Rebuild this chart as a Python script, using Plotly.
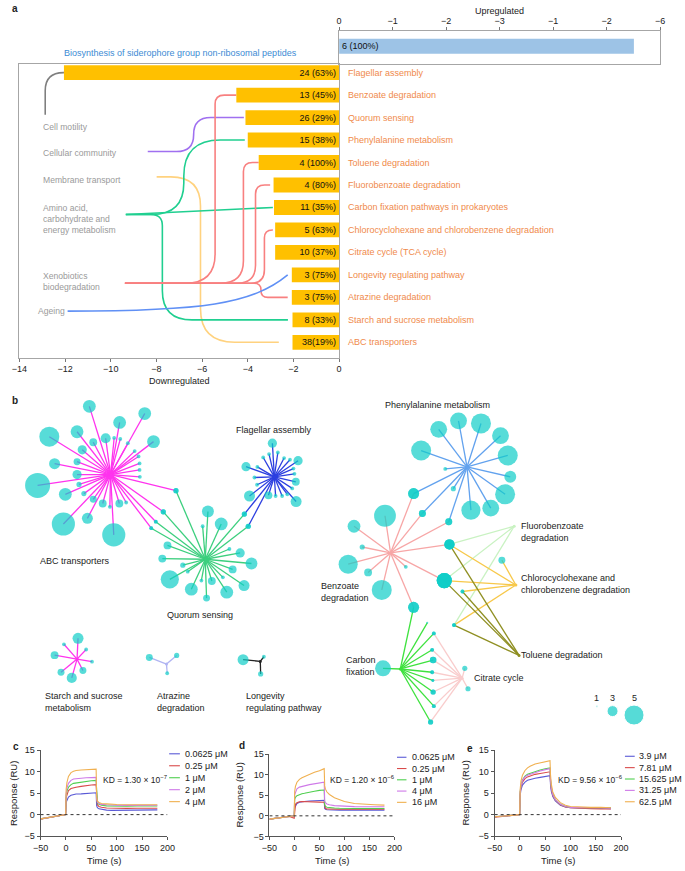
import plotly.graph_objects as go

W, H = 685, 871
FONT = "Liberation Sans, Arial, sans-serif"

# ---------------- panel a : enriched pathways ----------------
categories = ["Flagellar assembly", "Benzoate degradation", "Quorum sensing",
              "Phenylalanine metabolism", "Toluene degradation", "Fluorobenzoate degradation",
              "Carbon fixation pathways in prokaryotes",
              "Chlorocyclohexane and chlorobenzene degradation", "Citrate cycle (TCA cycle)",
              "Longevity regulating pathway", "Atrazine degradation",
              "Starch and sucrose metabolism", "ABC transporters"]
down_values = [12.05, 4.5, 4.1, 4.0, 3.52, 2.87, 2.85, 2.8, 2.8, 2.07, 2.07, 2.04, 2.04]
down_labels = ["24 (63%)", "13 (45%)", "26 (29%)", "15 (38%)", "4 (100%)", "4 (80%)", "11 (35%)",
               "5 (63%)", "10 (37%)", "3 (75%)", "3 (75%)", "8 (33%)", "38(19%)"]
up_category = "Biosynthesis of siderophore group non-ribosomal peptides"
up_value = 5.51
up_label = "6 (100%)"
down_ticks = [-14, -12, -10, -8, -6, -4, -2, 0]
up_ticks = [0, -1, -2, -3, -4, -5, -6]
up_ticktext = ["0", "−1", "−2", "−3", "−1", "−2", "−6"]

# functional groups: label, colour, anchor (x value, category position)
groups = {
    "motility": ("Cell motility", "#7f7f7f", -12.87, 1.88),
    "community": ("Cellular community", "#a070f0", -8.38, 3.51),
    "membrane": ("Membrane transport", "#ffd27f", -7.99, 4.64),
    "amino": ("Amino acid,<br>carbohydrate and<br>energy metabolism", "#20cf90", -9.34, 6.31),
    "xeno": ("Xenobiotics<br>biodegradation", "#f88080", -9.38, 9.37),
    "ageing": ("Ageing", "#6090f5", -11.89, 10.61),
}
# group -> pathway links: (group, category index, kind, bend x, r0, r1, gap)
links = [
    ("motility", 0, "elbow", -12.87, 0.0, 0.8, 0.0),
    ("community", 2, "elbow", -6.37, 0.75, 0.75, 0.07),
    ("membrane", 12, "elbow", -6.07, 1.3, 1.5, 0.6),
    ("amino", 3, "elbow", -6.8, 1.4, 1.6, 0.13),
    ("amino", 6, "line", 0, 0, 0, 0.05),
    ("amino", 11, "elbow", -7.74, 0.5, 1.3, 0.2),
    ("xeno", 1, "elbow", -5.43, 1.3, 0.4, 0.0),
    ("xeno", 4, "elbow", -4.19, 1.0, 0.4, 0.0),
    ("xeno", 5, "elbow", -3.66, 0.8, 0.4, 0.15),
    ("xeno", 7, "elbow", -3.27, 0.6, 0.35, 0.1),
    ("xeno", 10, "elbow", -3.42, 0.3, 0.3, 0.18),
    ("ageing", 9, "curve", 0, 0, 0, 0.18),
]

# ---------------- panel b : pathway networks ----------------
hubs = [
    dict(x=105, y=475, color="#ff33ee",
         lx=[83.3, 140, 114.3, 42.3, 70.7, 100, 149, 87.3, 108.7, 115, 76, 122.7, 129.7, 133.7, 134.7,
             134.7, 135, 47.7, 70.7, 70.7, 30.3, 72.7, 58.7, 77.7, 87.3, 97, 104.3, 114, 121, 81.3,
             56.7, 108.3, 172, 159, 151.3, 146.7],
         ly=[406, 413.3, 422.3, 436.7, 431.7, 438.3, 441.7, 442.3, 438, 439, 450, 443.3, 451.3, 456.7,
             463.7, 470.3, 477.3, 464, 462, 475, 486, 485, 495, 494.3, 500, 504.3, 507.7, 504.3, 503.3,
             519.3, 525, 536, 491.3, 512.7, 522.7, 529.3],
         lv=[3.4, 3.4, 3.4, 5.0, 3.4, 2.8, 3.4, 2.3, 1.4, 1.4, 2.6, 1.4, 1.4, 1.4, 1.4, 1.4, 1.4, 3.0,
             2.1, 2.6, 6.1, 1.7, 3.4, 1.7, 2.1, 2.3, 1.4, 2.3, 1.4, 3.0, 5.7, 5.7, 1.7, 1.7, 1.4, 1.4]),
    dict(x=202, y=560.7, color="#3ccf7e",
         lx=[204.7, 218.3, 199.3, 163.3, 158, 179, 184, 165.7, 187.7, 203.3, 198, 208.7, 224, 220, 230,
             241.7, 249.3, 237.7, 226.7, 242, 246, 172, 159, 151.3, 146.7],
         ly=[512.3, 525, 527.3, 546.7, 560, 566.7, 573.3, 581, 591, 600, 582.3, 582.7, 594, 579, 571,
             587.3, 565, 554.3, 550.3, 515, 527.3, 491.3, 512.7, 522.7, 529.3],
         lv=[3.2, 3.4, 1.4, 2.3, 2.3, 1.7, 1.4, 4.6, 3.4, 2.1, 1.4, 2.3, 3.4, 1.4, 2.3, 3.0, 3.2, 2.6,
             1.4, 1.7, 1.7, 1.7, 1.7, 1.4, 1.4]),
    dict(x=272.7, y=477.3, color="#2c3fe0",
         lx=[270.7, 276.3, 267.3, 282.7, 288.7, 297, 261.3, 243.7, 255.3, 292.3, 293.3, 252.3, 294.7,
             255, 291, 247.3, 266.7, 274, 280.7, 286, 295, 242, 246],
         ly=[443.3, 452.7, 454.3, 458.3, 460, 461, 457.7, 467, 467.3, 469, 474.3, 478, 482.3, 485.3,
             489, 496.7, 496, 496.7, 496.7, 495, 502.3, 515, 527.3],
         lv=[2.6, 1.4, 1.4, 1.4, 1.4, 2.6, 1.4, 2.6, 1.4, 1.4, 1.4, 1.4, 2.3, 1.4, 1.4, 3.0, 2.3, 1.4,
             1.4, 1.4, 3.0, 1.7, 1.7]),
    dict(x=70.7, y=661.7, color="#ff33ee",
         lx=[71.7, 57.3, 80, 47.7, 86, 54.3, 76.7, 65.3],
         ly=[640.7, 646.7, 652, 657.7, 664.3, 675, 673.3, 680.7],
         lv=[3.0, 1.4, 1.4, 2.3, 1.4, 2.1, 2.1, 2.8]),
    dict(x=162.3, y=666.7, color="#b0b4f2",
         lx=[144.7, 172.7, 163], ly=[660, 658, 676], lv=[2.1, 1.7, 1.4]),
    dict(x=258.3, y=664, color="#222222",
         lx=[240.7, 262, 258.7], ly=[662.3, 659.3, 676.7], lv=[3.0, 1.4, 1.7]),
    dict(x=470, y=467.3, color="#62a2ee",
         lx=[441, 461.3, 484.3, 504.3, 511.7, 423, 514.3, 509, 494.3, 474, 447.7, 456, 415.3, 424.3, 451.3],
         ly=[429.3, 420.7, 423.3, 435.7, 455.7, 450.7, 477.3, 495, 509, 511, 469.3, 489.3, 494.3, 514.3, 522.7],
         lv=[4.3, 4.3, 5.0, 4.3, 5.0, 5.0, 3.2, 5.0, 4.3, 4.8, 1.4, 1.7, 3.0, 2.1, 2.1]),
    dict(x=391.7, y=554.3, color="#f7a6a6",
         lx=[386, 354.3, 362.7, 348.3, 368.7, 382.7, 407.3, 415.3, 452, 446.7, 415.3, 424.3, 451.3],
         ly=[516.7, 527.3, 548.3, 565.7, 574, 591.7, 568.3, 609.3, 545.7, 582.3, 494.3, 514.3, 522.7],
         lv=[5.4, 3.4, 1.7, 4.8, 2.3, 5.0, 1.4, 3.0, 2.8, 3.9, 3.0, 2.1, 2.1]),
    dict(x=518.3, y=527.3, color="#c9f2c2",
         lx=[452, 446.7, 456.7], ly=[545.7, 582.3, 627.3], lv=[2.8, 3.9, 1.4]),
    dict(x=520, y=586.7, color="#f7c84a",
         lx=[452, 446.7, 465.3, 505.7, 456.7], ly=[545.7, 582.3, 593.3, 561.7, 627.3],
         lv=[2.8, 3.9, 1.4, 2.1, 1.4]),
    dict(x=523.3, y=658, color="#8f8f22",
         lx=[452, 446.7, 465.3, 456.7], ly=[545.7, 582.3, 593.3, 627.3], lv=[2.8, 3.9, 1.4, 1.4]),
    dict(x=401.7, y=671.7, color="#3ee23e",
         lx=[415.3, 384, 429.3, 436, 434.3, 435.3, 434.3, 435, 435.3, 436, 432.7],
         ly=[609.3, 671, 625, 635.7, 652.3, 662.7, 675, 683.3, 695, 709.3, 725.3],
         lv=[3.0, 4.1, 1.0, 1.4, 1.4, 2.0, 1.4, 1.2, 1.7, 1.4, 1.7]),
    dict(x=465, y=681, color="#f9cccc",
         lx=[436, 434.3, 435.3, 434.3, 435, 435.3, 436, 432.7, 467.7, 471],
         ly=[635.7, 652.3, 662.7, 675, 683.3, 695, 709.3, 725.3, 671, 691.7],
         lv=[1.4, 1.4, 2.0, 1.4, 1.2, 1.7, 1.4, 1.7, 1.7, 1.7]),
]
size_legend = [1, 3, 5]

# ---------------- panels c-e : SPR sensorgrams ----------------
t = [-50, -40, -30, -20, -10, -0.5, 0.5, 2, 5, 10, 15, 20, 30, 40, 50, 59.5,
     60.5, 62, 65, 70, 80, 90, 100, 120, 140, 160, 180]
c_resp = [
    [-1.0, -0.8, -0.6, -0.4, -0.2, 0.0, 2.9, 3.5, 4.1, 4.5, 4.7, 4.8, 4.85, 4.9, 5.0, 5.1, 2.1, 1.6, 1.35, 1.2, 1.05, 1.0, 1.0, 1.0, 1.05, 1.1, 1.1],
    [-1.1, -0.85, -0.65, -0.45, -0.2, 0.0, 4.0, 4.8, 5.6, 6.1, 6.3, 6.4, 6.6, 6.8, 6.9, 7.0, 3.0, 2.3, 1.9, 1.7, 1.55, 1.5, 1.5, 1.45, 1.5, 1.5, 1.5],
    [-1.0, -0.8, -0.6, -0.4, -0.2, 0.0, 4.5, 5.5, 6.4, 7.0, 7.3, 7.4, 7.6, 7.8, 7.9, 8.0, 3.3, 2.7, 2.4, 2.2, 2.05, 2.0, 2.0, 1.95, 2.0, 2.0, 2.0],
    [-1.0, -0.8, -0.6, -0.4, -0.2, 0.0, 5.0, 6.2, 7.3, 8.0, 8.3, 8.4, 8.5, 8.6, 8.7, 8.7, 3.6, 2.9, 2.6, 2.4, 2.3, 2.2, 2.2, 2.15, 2.2, 2.2, 2.2],
    [-1.0, -0.8, -0.6, -0.4, -0.2, 0.0, 6.0, 7.5, 8.9, 9.8, 10.1, 10.3, 10.4, 10.5, 10.5, 10.6, 4.2, 3.2, 2.8, 2.6, 2.5, 2.4, 2.35, 2.3, 2.3, 2.3, 2.3],
]
d_resp = [
    [-0.8, -0.65, -0.5, -0.35, -0.15, 0.1, 2.0, 2.5, 3.0, 3.3, 3.45, 3.5, 3.6, 3.65, 3.7, 3.8, 1.8, 1.6, 1.5, 1.45, 1.4, 1.4, 1.4, 1.35, 1.35, 1.4, 1.4],
    [-0.8, -0.65, -0.5, -0.35, -0.15, -0.6, 2.3, 2.8, 3.2, 3.45, 3.5, 3.5, 3.45, 3.4, 3.35, 3.3, 2.0, 1.8, 1.7, 1.65, 1.6, 1.6, 1.6, 1.55, 1.6, 1.6, 1.6],
    [-0.8, -0.65, -0.5, -0.35, -0.15, 0.0, 4.0, 4.5, 4.9, 5.2, 5.4, 5.5, 5.8, 6.0, 6.2, 6.3, 2.6, 2.3, 2.1, 2.0, 1.9, 1.85, 1.8, 1.8, 1.8, 1.8, 1.8],
    [-0.8, -0.65, -0.5, -0.35, -0.15, 0.0, 5.2, 5.9, 6.6, 7.0, 7.2, 7.3, 7.6, 7.8, 8.0, 8.2, 3.6, 3.2, 2.9, 2.7, 2.5, 2.4, 2.3, 2.25, 2.2, 2.2, 2.2],
    [-0.8, -0.65, -0.5, -0.35, -0.15, 0.0, 6.0, 7.2, 8.2, 8.9, 9.3, 9.6, 10.2, 10.6, 11.0, 11.5, 7.3, 6.5, 5.8, 5.2, 4.4, 3.9, 3.5, 3.0, 2.8, 2.7, 2.6],
]
e_resp = [
    [-0.5, -0.4, -0.3, -0.2, -0.1, 0.0, 4.5, 5.8, 6.9, 7.6, 8.0, 8.2, 8.5, 8.7, 8.9, 9.1, 7.0, 5.5, 4.2, 3.2, 2.2, 1.8, 1.6, 1.5, 1.5, 1.5, 1.4],
    [-0.6, -0.45, -0.35, -0.25, -0.1, 0.0, 5.0, 6.4, 7.6, 8.4, 8.8, 9.0, 9.4, 9.6, 9.8, 10.0, 7.6, 6.0, 4.5, 3.4, 2.3, 1.8, 1.6, 1.45, 1.4, 1.35, 1.3],
    [-0.5, -0.4, -0.3, -0.2, -0.1, 0.0, 5.3, 6.8, 8.1, 9.0, 9.4, 9.6, 10.1, 10.4, 10.7, 10.9, 8.2, 6.4, 4.8, 3.5, 2.4, 1.9, 1.7, 1.6, 1.6, 1.6, 1.6],
    [-0.5, -0.4, -0.3, -0.2, -0.1, 0.0, 5.2, 6.7, 8.0, 8.8, 9.2, 9.4, 9.9, 10.2, 10.5, 10.7, 8.1, 6.3, 4.7, 3.5, 2.4, 1.9, 1.7, 1.6, 1.6, 1.6, 1.5],
    [-0.5, -0.4, -0.3, -0.2, -0.1, 0.0, 6.0, 7.8, 9.2, 10.3, 10.9, 11.3, 11.8, 12.1, 12.4, 12.6, 9.3, 7.2, 5.3, 4.0, 2.8, 2.2, 1.9, 1.75, 1.7, 1.7, 1.6],
]
c_conc = ["0.0625 μM", "0.25 μM", "1 μM", "2 μM", "4 μM"]
d_conc = ["0.0625 μM", "0.25 μM", "1 μM", "4 μM", "16 μM"]
e_conc = ["3.9 μM", "7.81 μM", "15.625 μM", "31.25 μM", "62.5 μM"]
kd_text = ["1.30 × 10<sup>−7</sup>", "1.20 × 10<sup>−6</sup>", "9.56 × 10<sup>−6</sup>"]
spr_colors = ["#5a5ad6", "#d94a4a", "#4fcf4f", "#cf7ae8", "#f0b050"]
spr_xticks = [-50, 0, 50, 100, 150, 200]
spr_yticks = [-5, 0, 5, 10, 15]


def dx(a, b):
    return [a / W, b / W]


def dy(top, bottom):
    return [1 - bottom / H, 1 - top / H]


def minus(v):
    return str(v).replace("-", "−")


fig = go.Figure()
ann = []
shapes = []


def text(x, y, s, size=9, color="#222222", xa="left", ya="middle", bold=False, angle=0):
    ann.append(dict(x=x, y=y, xref="x7", yref="y7", text=f"<b>{s}</b>" if bold else s,
                    showarrow=False, xanchor=xa, yanchor=ya, align=xa if xa != "center" else "center",
                    textangle=angle, font=dict(family=FONT, size=size, color=color)))


# ---- panel a bars
idx = list(range(len(categories)))
fig.add_trace(go.Bar(x=[-v for v in down_values], y=idx, orientation="h", width=0.66,
                     marker=dict(color="#ffc000", line=dict(width=0)),
                     text=down_labels, textposition="inside", insidetextanchor="start", textangle=0,
                     constraintext="none",
                     textfont=dict(family=FONT, size=9, color="#111111"),
                     xaxis="x", yaxis="y", hoverinfo="skip"))
fig.add_trace(go.Bar(x=[-up_value], y=[0], orientation="h", width=0.46,
                     marker=dict(color="#9dc3e6", line=dict(width=0)),
                     text=[up_label], textposition="inside", insidetextanchor="start", textangle=0,
                     constraintext="none",
                     textfont=dict(family=FONT, size=9, color="#111111"),
                     xaxis="x2", yaxis="y2", hoverinfo="skip"))

# connectors from functional groups to pathways
for g, cat, kind, bx, r0, r1, gap in links:
    label, col, x0, y0 = groups[g]
    y1 = cat
    x1 = -down_values[cat] - gap
    if kind == "line":
        path = f"M{x0},{y0} L{x1},{y1}"
    elif kind == "curve":
        path = f"M{x0},{y0} C-6.0,{y0} -3.8,{y1 + 1.3} {x1},{y1}"
    else:
        s = 1 if y1 > y0 else -1
        path = (f"M{x0},{y0} L{bx - r0},{y0} Q{bx},{y0} {bx},{y0 + s * r0} "
                f"L{bx},{y1 - s * r1} Q{bx},{y1} {bx + r1},{y1} L{x1},{y1}")
    shapes.append(dict(type="path", path=path, xref="x", yref="y", layer="below",
                       line=dict(color=col, width=1.6)))

for name, yi in zip(categories, idx):
    ann.append(dict(x=346 / W, y=yi, xref="paper", yref="y", text=name, showarrow=False,
                    xanchor="left", yanchor="middle",
                    font=dict(family=FONT, size=9, color="#f08a4b")))

group_pos = {"motility": (34, 123), "community": (34, 150), "membrane": (34, 176.7),
             "amino": (34, 216.5), "xeno": (34, 279.3), "ageing": (29, 310)}
for g, (gx, gy) in group_pos.items():
    text(gx, gy, groups[g][0], size=8.6, color="#9a9a9a")

text(176.5, 48.5, up_category, size=9, color="#3d8bd4", xa="center")
text(503, 6, "Upregulated", size=9, xa="center")
text(176, 380.5, "Downregulated", size=9, xa="center")
text(2, 4, "a", size=10, bold=True, ya="middle")

# ---- panel b networks
for h in hubs:
    ex, ey = [], []
    for x, y in zip(h["lx"], h["ly"]):
        ex += [h["x"], x, None]
        ey += [h["y"], y, None]
    fig.add_trace(go.Scatter(x=ex, y=ey, mode="lines", line=dict(color=h["color"], width=1.3),
                             xaxis="x7", yaxis="y7", hoverinfo="skip"))
nx, ny, ns = [], [], []
for h in hubs:
    nx += h["lx"]
    ny += h["ly"]
    ns += [max(4.5 * v - 2.5, 2) for v in h["lv"]]
fig.add_trace(go.Scatter(x=nx, y=ny, mode="markers",
                         marker=dict(color="#10cdc7", size=ns, line=dict(width=0)),
                         xaxis="x7", yaxis="y7", hoverinfo="skip"))
fig.add_trace(go.Scatter(x=[h["x"] for h in hubs], y=[h["y"] for h in hubs], mode="markers",
                         marker=dict(color=[h["color"] for h in hubs], size=3),
                         xaxis="x7", yaxis="y7", hoverinfo="skip"))

# node-size key
key_x = [603, 619, 641]
key_y = [709.3, 714.3, 718.3]
fig.add_trace(go.Scatter(x=key_x, y=key_y, mode="markers",
                         marker=dict(color="#10cdc7", size=[max(4.5 * v - 2.5, 2) for v in size_legend]),
                         xaxis="x7", yaxis="y7", hoverinfo="skip"))
for kx, v in zip(key_x, size_legend):
    text(kx, 700.7, str(v), xa="center")

text(272.3, 430, "Flagellar assembly", xa="center")
text(69, 562.3, "ABC transporters", xa="center")
text(196.7, 616.7, "Quorum sensing", xa="center")
text(440, 405, "Phenylalanine metabolism", xa="center")
text(318, 593.7, "Benzoate<br>degradation")
text(523.3, 533.3, "Fluorobenzoate<br>degradation")
text(523.3, 585.8, "Chlorocyclohexane and<br>chlorobenzene degradation")
text(523.3, 658, "Toluene degradation")
text(344, 668.3, "Carbon<br>fixation")
text(475, 680.7, "Citrate cycle")
text(36, 705, "Starch and sucrose<br>metabolism")
text(150, 705, "Atrazine<br>degradation")
text(241.7, 705, "Longevity<br>regulating pathway")
text(2, 400, "b", size=10, bold=True)

# ---- panels c-e sensorgrams
spr = [
    dict(n=4, xd=(33.3, 163.3), yd=(754, 840.7), resp=c_resp, conc=c_conc, letter="c",
         lp=(3.3, 750), ytl=5, kd=(95, 783), leg=(165, 176, 179.5, 757.5, 12.1)),
    dict(n=5, xd=(267.7, 395.7), yd=(758, 841), resp=d_resp, conc=d_conc, letter="d",
         lp=(234.3, 749.5), ytl=236.7, kd=(327.7, 783), leg=(398.3, 408, 411.7, 761, 11.4)),
    dict(n=6, xd=(498.3, 627.7), yd=(754, 840.7), resp=e_resp, conc=e_conc, letter="e",
         lp=(467.7, 751.7), ytl=468.3, kd=(561, 783), leg=(631.7, 641.7, 644.3, 760, 11.5)),
]
axis_style = dict(showline=True, linecolor="#555555", linewidth=1, ticks="outside", ticklen=3,
                  tickcolor="#555555", tickfont=dict(family=FONT, size=9, color="#222222"),
                  showgrid=False, zeroline=False, fixedrange=True)
layout_axes = {}
for k, p in enumerate(spr):
    n = p["n"]
    for i, col in enumerate(spr_colors):
        fig.add_trace(go.Scatter(x=t, y=p["resp"][i], mode="lines",
                                 line=dict(color=col, width=1.1),
                                 xaxis=f"x{n}", yaxis=f"y{n}", hoverinfo="skip"))
    layout_axes[f"xaxis{n}"] = dict(domain=dx(*p["xd"]), range=[-50, 200], anchor=f"y{n}",
                                    tickvals=spr_xticks, ticktext=[minus(v) for v in spr_xticks],
                                    **axis_style)
    layout_axes[f"yaxis{n}"] = dict(domain=dy(*p["yd"]), range=[-5, 15], anchor=f"x{n}",
                                    tickvals=spr_yticks, ticktext=[minus(v) for v in spr_yticks],
                                    **axis_style)
    shapes.append(dict(type="line", xref=f"x{n}", yref=f"y{n}", x0=-50, x1=200, y0=0, y1=0,
                       line=dict(color="#333333", width=1, dash="dot")))
    lx0, lx1, tx, ly0, step = p["leg"]
    for i, (col, lab) in enumerate(zip(spr_colors, p["conc"])):
        yy = ly0 + i * step
        fig.add_trace(go.Scatter(x=[lx0, lx1], y=[yy, yy], mode="lines",
                                 line=dict(color=col, width=1.1),
                                 xaxis="x7", yaxis="y7", hoverinfo="skip"))
        text(tx, yy, lab, size=9)
    text(p["kd"][0], p["kd"][1], "KD = " + kd_text[k], size=8.5)
    text(p["lp"][0], p["lp"][1], p["letter"], size=10, bold=True)
    xc = (p["xd"][0] + p["xd"][1]) / 2
    text(xc, 865.7, "Time (s)", size=9.5, xa="center")
    text(p["ytl"], (p["yd"][0] + p["yd"][1]) / 2, "Response (RU)", size=9.5, xa="center", angle=-90)

box_line = dict(showline=True, linecolor="#a6a6a6", linewidth=1, mirror=True,
                showgrid=False, zeroline=False, fixedrange=True)
fig.update_layout(
    width=W, height=H, margin=dict(l=0, r=0, t=0, b=0),
    paper_bgcolor="white", plot_bgcolor="rgba(0,0,0,0)", showlegend=False,
    font=dict(family=FONT, size=9, color="#222222"),
    xaxis=dict(domain=dx(11.7, 339), range=[-14, 0], anchor="y", tickvals=down_ticks,
               ticktext=[minus(v) for v in down_ticks], ticks="outside", ticklen=3,
               tickcolor="#777777", tickfont=dict(family=FONT, size=9, color="#222222"), **box_line),
    yaxis=dict(domain=dy(59.3, 356.7), range=[12.68, -0.4], anchor="x", showticklabels=False,
               ticks="", **box_line),
    xaxis2=dict(domain=dx(339, 667.7), range=[0, -6], anchor="y2", side="top", tickvals=up_ticks,
                ticktext=up_ticktext, ticks="outside", ticklen=3, tickcolor="#777777",
                tickfont=dict(family=FONT, size=9, color="#222222"), **box_line),
    yaxis2=dict(domain=dy(26.7, 59.3), range=[-0.54, 0.46], anchor="x2", showticklabels=False,
                ticks="", **box_line),
    xaxis7=dict(domain=[0, 1], range=[0, W], anchor="y7", visible=False, fixedrange=True),
    yaxis7=dict(domain=[0, 1], range=[H, 0], anchor="x7", visible=False, fixedrange=True),
    annotations=ann, shapes=shapes,
    **layout_axes,
)

# the page body has a default margin; remove it so the figure sits at the window origin
fig.write_html("out.html", config={"displayModeBar": False},
               post_script="document.body.style.margin='0';")
